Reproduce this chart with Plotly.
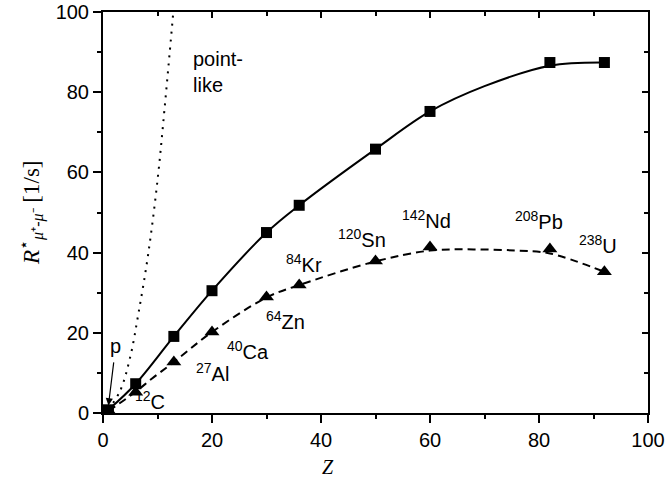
import plotly.graph_objects as go

# ---- data ----
nuclei_z = [1, 6, 13, 20, 30, 36, 50, 60, 82, 92]
rate_square = [0.8, 7.3, 19.1, 30.5, 45.0, 51.8, 65.8, 75.2, 87.4, 87.4]
tri_z = [1, 6, 13, 20, 30, 36, 50, 60, 82, 92]
rate_triangle = [0.6, 5.2, 12.7, 20.2, 28.9, 31.9, 37.9, 41.4, 40.9, 35.2]

solid_fit_z = [1, 6, 13, 20, 30, 36, 50, 60, 70, 82, 92]
solid_fit_r = [0.8, 7.3, 19.1, 30.5, 45.0, 51.8, 65.8, 75.2, 81.5, 86.6, 87.4]

dashed_fit_z = [1, 6, 9, 13, 20, 30, 36, 50, 60, 68, 76, 82, 92]
dashed_fit_r = [0.5, 5.3, 8.6, 12.7, 20.2, 28.8, 31.9, 37.8, 40.5, 40.8, 40.5, 39.8, 35.2]

pointlike_z = [1, 3.2, 5.0, 6.5, 8.3, 10.0, 11.3, 12.9]
pointlike_r = [0.8, 5.7, 14.0, 24.8, 39.7, 58.0, 76.0, 100.0]

labels = ["<sup>12</sup>C", "<sup>27</sup>Al", "<sup>40</sup>Ca", "<sup>64</sup>Zn", "<sup>84</sup>Kr",
          "<sup>120</sup>Sn", "<sup>142</sup>Nd", "<sup>208</sup>Pb", "<sup>238</sup>U"]
label_x = [8.7, 20.0, 26.6, 33.4, 36.9, 47.5, 59.4, 80.0, 90.9]
label_y = [3.2, 10.0, 15.6, 23.0, 37.4, 43.6, 48.3, 48.0, 42.0]

x_ticks = [0, 20, 40, 60, 80, 100]
y_ticks = [0, 20, 40, 60, 80, 100]

FONT = "Liberation Sans, Arial, sans-serif"
SERIF = "Liberation Serif, Times New Roman, serif"
FS = 20

fig = go.Figure()

fig.add_trace(go.Scatter(x=pointlike_z, y=pointlike_r, mode="lines", line_shape="spline",
                         line=dict(color="black", width=2, dash="2px,6px"), showlegend=False))
fig.add_trace(go.Scatter(x=solid_fit_z, y=solid_fit_r, mode="lines", line_shape="spline",
                         line=dict(color="black", width=2), showlegend=False))
fig.add_trace(go.Scatter(x=dashed_fit_z, y=dashed_fit_r, mode="lines", line_shape="spline",
                         line=dict(color="black", width=2, dash="8px,5px"), showlegend=False))
fig.add_trace(go.Scatter(x=nuclei_z, y=rate_square, mode="markers",
                         marker=dict(symbol="square", size=11, color="black"), showlegend=False))
fig.add_trace(go.Scatter(x=tri_z, y=rate_triangle, mode="markers",
                         marker=dict(symbol="triangle-up", size=13, color="black"), showlegend=False))
# invisible trace for the mirrored (top/right) axes
fig.add_trace(go.Scatter(x=[0, 100], y=[0, 100], mode="markers", marker=dict(opacity=0),
                         xaxis="x2", yaxis="y2", showlegend=False, hoverinfo="skip"))

for t, x, y in zip(labels, label_x, label_y):
    fig.add_annotation(x=x, y=y, text=t, showarrow=False,
                       font=dict(family=FONT, size=FS, color="black"))

fig.add_annotation(x=16.2, y=85, text="point-<br>like", showarrow=False, align="left",
                   xanchor="left", font=dict(family=FONT, size=FS, color="black"))
fig.add_annotation(x=1.0, y=1.9, ax=2.0, ay=13.0, axref="x", ayref="y", text="",
                   showarrow=True, arrowhead=2, arrowsize=1.2, arrowwidth=1.2, arrowcolor="black")
fig.add_annotation(x=2.3, y=16.8, text="p", showarrow=False,
                   font=dict(family=FONT, size=FS, color="black"))

# axis titles
fig.add_annotation(xref="paper", yref="paper", x=0.413, y=-0.135, xanchor="center", yanchor="middle",
                   text="<i>Z</i>", showarrow=False,
                   font=dict(family=SERIF, size=20, color="black"))
fig.add_annotation(xref="paper", yref="paper", x=-0.133, y=0.5, xanchor="center", yanchor="middle",
                   textangle=-90,
                   text="<i>R</i><sup>⋆</sup><sub><i>μ</i>⁺-<i>μ</i>⁻</sub> [1/s]", showarrow=False,
                   font=dict(family=SERIF, size=23, color="black"))

axis_common = dict(showgrid=False, zeroline=False, showline=True, linecolor="black", linewidth=2,
                   range=[0, 100], tickwidth=2, tickcolor="black", automargin=False)

fig.update_layout(
    width=665, height=481,
    margin=dict(l=103, r=17, t=12, b=68),
    plot_bgcolor="white", paper_bgcolor="white",
    xaxis=dict(**axis_common, tickvals=x_ticks, ticks="outside", ticklen=8,
               minor=dict(ticks="outside", ticklen=4, dtick=10, tickwidth=2, tickcolor="black"),
               tickfont=dict(family=FONT, size=FS, color="black")),
    yaxis=dict(**axis_common, tickvals=y_ticks, ticks="outside", ticklen=8,
               minor=dict(ticks="outside", ticklen=4, dtick=10, tickwidth=2, tickcolor="black"),
               tickfont=dict(family=FONT, size=FS, color="black")),
    xaxis2=dict(**axis_common, overlaying="x", side="top", anchor="y2", tickvals=x_ticks,
                ticks="inside", ticklen=6, showticklabels=False,
                minor=dict(ticks="inside", ticklen=4, dtick=10, tickwidth=2, tickcolor="black")),
    yaxis2=dict(**axis_common, overlaying="y", side="right", anchor="x2", tickvals=y_ticks,
                ticks="inside", ticklen=6, showticklabels=False,
                minor=dict(ticks="inside", ticklen=4, dtick=10, tickwidth=2, tickcolor="black")),
)

fig.write_html("out.html")
